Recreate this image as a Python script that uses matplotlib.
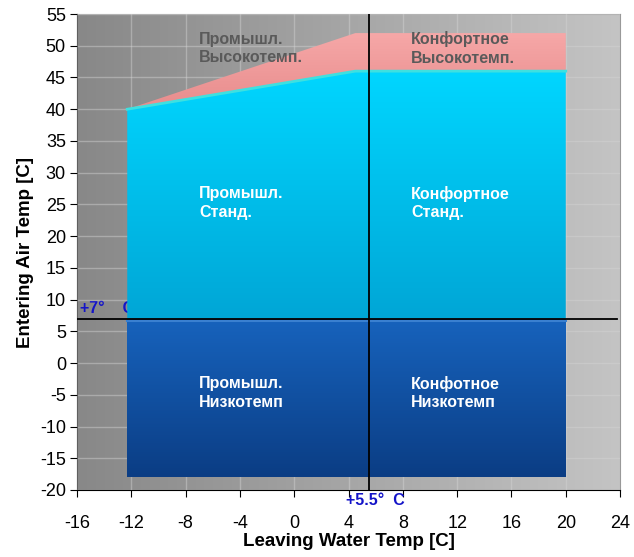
import matplotlib.pyplot as plt
import numpy as np
from matplotlib.patches import Polygon
from matplotlib.colors import LinearSegmentedColormap

plt.rcParams['font.family'] = ['Liberation Sans', 'DejaVu Sans']
plt.rcParams['axes.unicode_minus'] = False

# Envelope data (Leaving water temp, Entering air temp)
low_x = [-12.3, 20, 20, -12.3]
low_y = [-18, -18, 7, 7]
std_x = [-12.3, 4.5, 20, 20, -12.3]
std_y = [40, 46, 46, 7, 7]
high_x = [-12.3, 4.5, 20, 20, 4.5]
high_y = [40, 52, 52, 46, 46]

x_ticks = [-16, -12, -8, -4, 0, 4, 8, 12, 16, 20, 24]
y_ticks = [-20, -15, -10, -5, 0, 5, 10, 15, 20, 25, 30, 35, 40, 45, 50, 55]
water_limit = 5.5
air_limit = 7

labels = [
    (-7.0, 49.6, 'Промышл.\nВысокотемп.', '#5a5a5a'),
    (8.6, 49.6, 'Конфортное\nВысокотемп.', '#5a5a5a'),
    (-7.0, 25.2, 'Промышл.\nСтанд.', 'white'),
    (8.6, 25.2, 'Конфортное\nСтанд.', 'white'),
    (-7.0, -4.7, 'Промышл.\nНизкотемп', 'white'),
    (8.6, -4.7, 'Конфотное\nНизкотемп', 'white'),
]

fig = plt.figure(figsize=(6.34, 5.57), dpi=100)
ax = fig.add_axes([0.1215, 0.1203, 0.8565, 0.8545])
ax.set_xlim(-16, 24)
ax.set_ylim(-20, 55)

# background gradient
bg = LinearSegmentedColormap.from_list('bg', ['#888888', '#c4c4c4'])
ax.imshow(np.linspace(0, 1, 256).reshape(1, -1), cmap=bg, aspect='auto',
          extent=[-16, 24, -20, 55], zorder=0)
ax.grid(True, color='#d4d4d4', linewidth=1, alpha=0.45, zorder=1)
ax.set_axisbelow(False)


def grad_fill(xs, ys, top, bottom, z):
    poly = Polygon(np.column_stack([xs, ys]), closed=True, facecolor='none',
                   edgecolor='none')
    ax.add_patch(poly)
    cm = LinearSegmentedColormap.from_list('g', [bottom, top])
    im = ax.imshow(np.linspace(0, 1, 256).reshape(-1, 1), cmap=cm, aspect='auto',
                   origin='lower', extent=[min(xs), max(xs), min(ys), max(ys)],
                   zorder=z)
    im.set_clip_path(poly)


ax.text(-15.8, air_limit + 0.4, '+7°    C', color='#1414c8', fontsize=11.5,
        fontweight='bold', va='bottom', zorder=2)

grad_fill(low_x, low_y, '#1763bd', '#0b3d84', 3)
grad_fill(std_x, std_y, '#00d6ff', '#00a6d6', 3)
grad_fill(high_x, high_y, '#f6a8a8', '#e88c8c', 3)
ax.plot(std_x[:3], std_y[:3], color='#3ee0e0', linewidth=2, zorder=4)
ax.plot(low_x[2:], [v - 0.4 for v in low_y[2:]], color='#3a80d0', linewidth=1.5, zorder=4)

ax.axhline(air_limit, xmin=0, xmax=0.995, color='black', linewidth=1.3, zorder=5)
ax.axvline(water_limit, color='black', linewidth=1.3, zorder=5)

for x, y, t, c in labels:
    ax.text(x, y, t, color=c, fontsize=11.5, fontweight='bold', va='center',
            ha='left', linespacing=1.3, zorder=6)

ax.text(water_limit - 1.7, -20.5, '+5.5°  C', color='#1414c8', fontsize=11.5,
        fontweight='bold', va='top', ha='left', clip_on=False, zorder=6)

ax.set_xticks(x_ticks)
ax.set_yticks(y_ticks)
ax.tick_params(axis='both', labelsize=13, direction='out', length=5, color='black')
ax.tick_params(axis='x', pad=13)
ax.tick_params(axis='y', pad=3)
ax.set_xlabel('Leaving Water Temp [C]', fontsize=13.5, fontweight='bold', labelpad=1)
ax.set_ylabel('Entering Air Temp [C]', fontsize=13.5, fontweight='bold', labelpad=4)
for s in ['top', 'right']:
    ax.spines[s].set_color('#999999')
for s in ['left', 'bottom']:
    ax.spines[s].set_color('black')

fig.savefig('out.png', dpi=100)
